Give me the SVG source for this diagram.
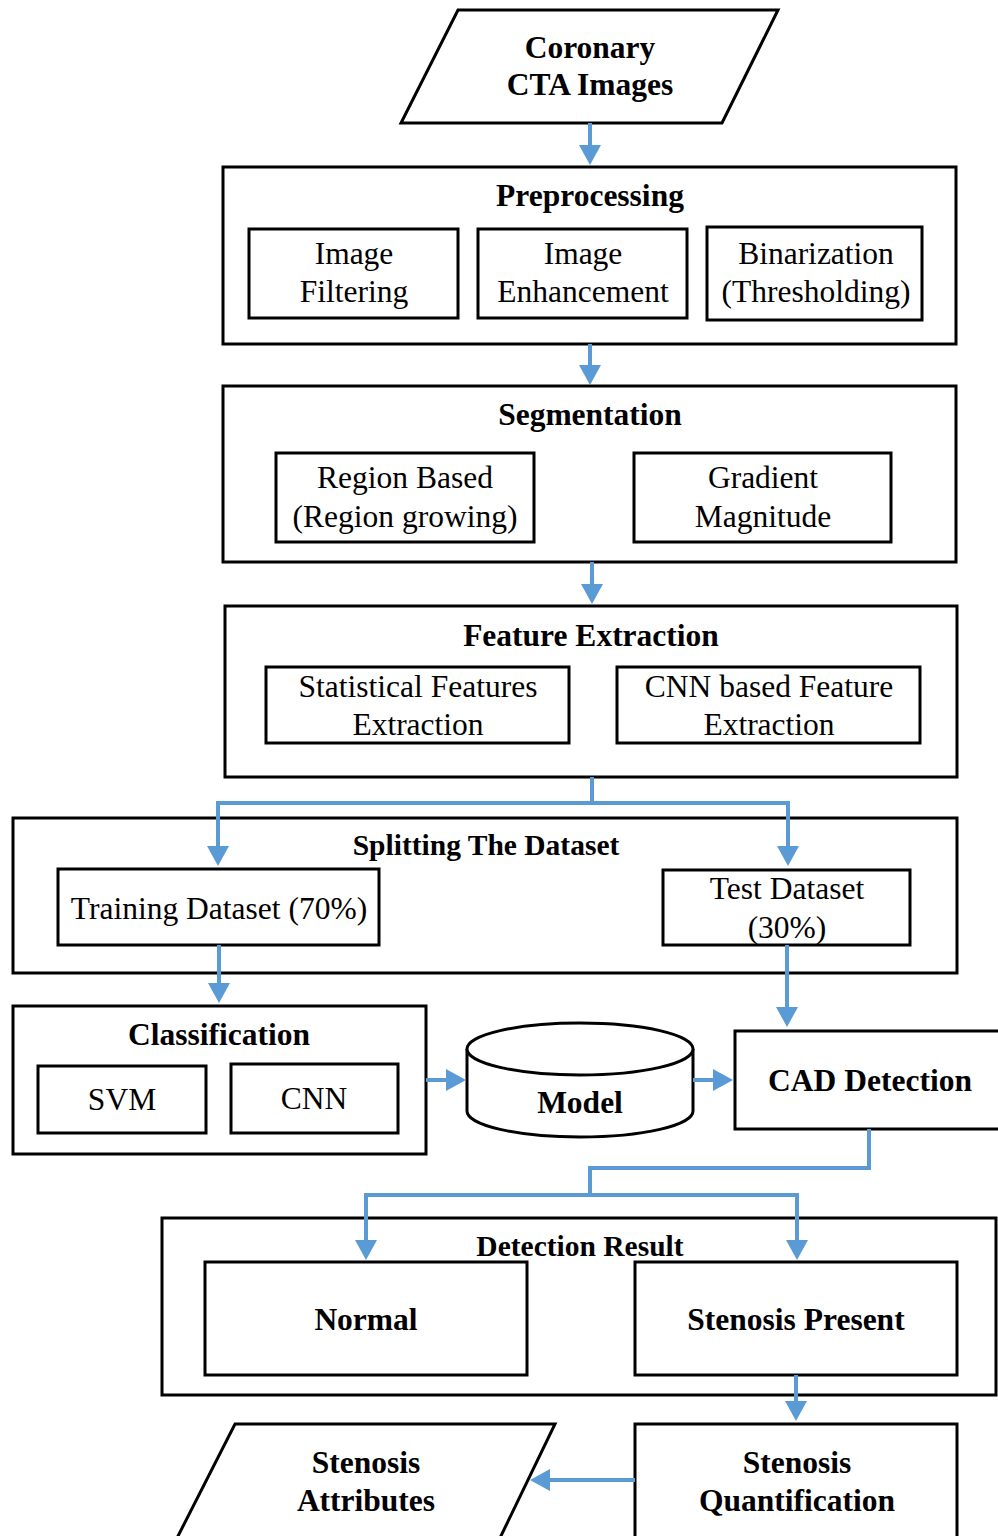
<svg xmlns="http://www.w3.org/2000/svg" width="998" height="1536" viewBox="0 0 998 1536">
<defs>
<marker id="ah" markerUnits="userSpaceOnUse" viewBox="0 0 20 22" refX="16" refY="11" markerWidth="20" markerHeight="22" orient="auto">
<path d="M0,0 L20,11 L0,22 z" fill="#5B9BD5"/>
</marker>
</defs>
<style>
.box{fill:#fff;stroke:#000;stroke-width:3}
.b{font-family:"Liberation Serif","Times New Roman",serif;font-weight:bold;font-size:31.5px;fill:#000;text-anchor:middle}
.bs{font-family:"Liberation Serif","Times New Roman",serif;font-weight:bold;font-size:29.5px;fill:#000;text-anchor:middle}
.r{font-family:"Liberation Serif","Times New Roman",serif;font-size:31.5px;fill:#000;text-anchor:middle}
.c{fill:none;stroke:#5B9BD5;stroke-width:4;marker-end:url(#ah)}
.cn{fill:none;stroke:#5B9BD5;stroke-width:4}
</style>
<rect width="998" height="1536" fill="#fff"/>

<g id="coronary">
<polygon class="box" points="458,10 778,10 722,123 401,123"/>
<text class="b" x="590" y="58">Coronary</text>
<text class="b" x="590" y="95">CTA Images</text>
</g>

<g id="preprocessing">
<rect class="box" x="223" y="167" width="733" height="177"/>
<text class="b" x="590" y="206">Preprocessing</text>
<rect class="box" x="249" y="229" width="209" height="89"/>
<text class="r" x="354" y="264">Image</text>
<text class="r" x="354" y="302">Filtering</text>
<rect class="box" x="478" y="229" width="209" height="89"/>
<text class="r" x="583" y="264">Image</text>
<text class="r" x="583" y="302">Enhancement</text>
<rect class="box" x="707" y="227" width="215" height="93"/>
<text class="r" x="816" y="264">Binarization</text>
<text class="r" x="816" y="302">(Thresholding)</text>
</g>

<g id="segmentation">
<rect class="box" x="223" y="386" width="733" height="176"/>
<text class="b" x="590" y="425">Segmentation</text>
<rect class="box" x="276" y="453" width="258" height="89"/>
<text class="r" x="405" y="488">Region Based</text>
<text class="r" x="405" y="527">(Region growing)</text>
<rect class="box" x="634" y="453" width="257" height="89"/>
<text class="r" x="763" y="488">Gradient</text>
<text class="r" x="763" y="527">Magnitude</text>
</g>

<g id="feature">
<rect class="box" x="225" y="606" width="732" height="171"/>
<text class="b" x="591" y="646">Feature Extraction</text>
<rect class="box" x="266" y="667" width="303" height="76"/>
<text class="r" x="418" y="697">Statistical Features</text>
<text class="r" x="418" y="735">Extraction</text>
<rect class="box" x="617" y="667" width="303" height="76"/>
<text class="r" x="769" y="697">CNN based Feature</text>
<text class="r" x="769" y="735">Extraction</text>
</g>

<g id="splitting">
<rect class="box" x="13" y="818" width="944" height="155"/>
<text class="bs" x="486" y="855">Splitting The Dataset</text>
<rect class="box" x="58" y="869" width="321" height="76"/>
<text class="r" x="219" y="919">Training Dataset (70%)</text>
<rect class="box" x="663" y="870" width="247" height="75"/>
<text class="r" x="787" y="899">Test Dataset</text>
<text class="r" x="787" y="938">(30%)</text>
</g>

<g id="classification">
<rect class="box" x="13" y="1006" width="413" height="148"/>
<text class="b" x="219" y="1045">Classification</text>
<rect class="box" x="38" y="1066" width="168" height="67"/>
<text class="r" x="122" y="1110">SVM</text>
<rect class="box" x="231" y="1064" width="167" height="69"/>
<text class="r" x="314" y="1109">CNN</text>
</g>

<g id="model">
<path class="box" d="M467,1049 V1111 A113,26 0 0 0 693,1111 V1049"/>
<ellipse class="box" cx="580" cy="1049" rx="113" ry="26"/>
<text class="b" x="580" y="1113">Model</text>
</g>

<g id="cad">
<rect class="box" x="735" y="1031" width="270" height="98"/>
<text class="b" x="870" y="1091">CAD Detection</text>
</g>

<g id="detection">
<rect class="box" x="162" y="1218" width="834" height="177"/>
<text class="bs" x="580" y="1256">Detection Result</text>
<rect class="box" x="205" y="1262" width="322" height="113"/>
<text class="b" x="366" y="1330">Normal</text>
<rect class="box" x="635" y="1262" width="322" height="113"/>
<text class="b" x="796" y="1330">Stenosis Present</text>
</g>

<g id="quantification">
<rect class="box" x="635" y="1424" width="322" height="120"/>
<text class="b" x="797" y="1473">Stenosis</text>
<text class="b" x="797" y="1511">Quantification</text>
</g>

<g id="attributes">
<polygon class="box" points="235,1424 555,1424 499,1540 176,1540"/>
<text class="b" x="366" y="1473">Stenosis</text>
<text class="b" x="366" y="1511">Attributes</text>
</g>

<g id="connectors">
<path class="c" d="M590,123 V161"/>
<path class="c" d="M590,344 V381"/>
<path class="c" d="M592,562 V600"/>
<path class="c" d="M592,777 V803 H218 V862"/>
<path class="c" d="M592,803 H788 V862"/>
<path class="c" d="M219,945 V999"/>
<path class="c" d="M787,945 V1023"/>
<path class="c" d="M426,1080 H462"/>
<path class="c" d="M693,1080 H729"/>
<path class="c" d="M869,1129 V1168 H590 V1195 H366 V1256"/>
<path class="c" d="M590,1195 H797 V1256"/>
<path class="c" d="M796,1375 V1417"/>
<path class="c" d="M635,1480 H534"/>
</g>
</svg>
